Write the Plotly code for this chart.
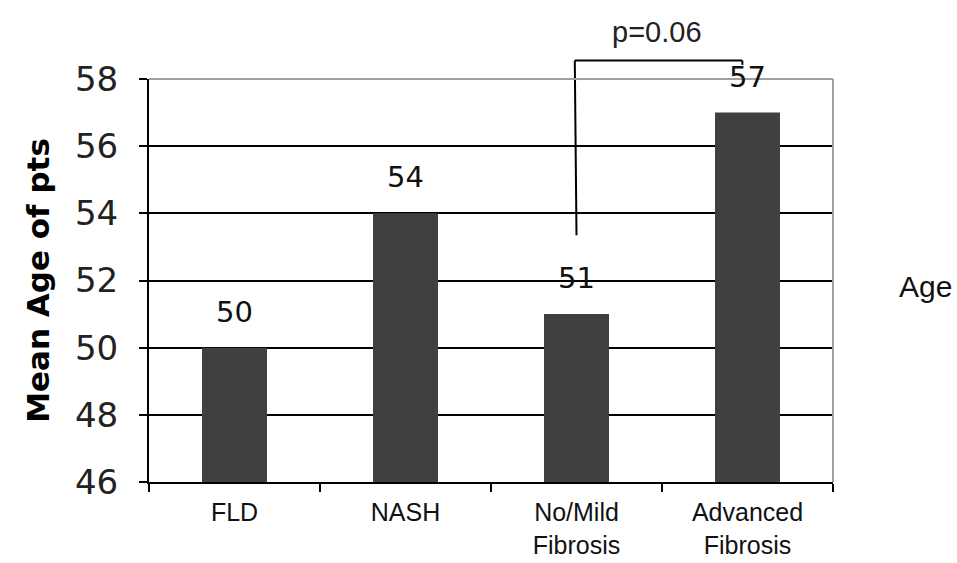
import plotly.graph_objects as go

categories = ["FLD", "NASH", "No/Mild<br>Fibrosis", "Advanced<br>Fibrosis"]
mean_age = [50, 54, 51, 57]
y_ticks = [46, 48, 50, 52, 54, 56, 58]
series_name = "Age"
p_text = "p=0.06"

Y_MIN, Y_MAX = y_ticks[0], y_ticks[-1]


def ypaper(v):
    return (v - Y_MIN) / (Y_MAX - Y_MIN)


fig = go.Figure()
fig.add_trace(go.Bar(
    x=categories, y=mean_age, marker=dict(color="#404040", line=dict(width=0)),
    width=0.38, showlegend=False,
))

for c, v in zip(categories, mean_age):
    fig.add_annotation(x=c, y=v, text=str(v), showarrow=False, yshift=36,
                       font=dict(family="DejaVu Sans", size=29, color="#111"),
                       yanchor="middle")

W, H = 957, 563
ml, mr, mt, mb = 149, 124, 79, 81

# significance bracket between No/Mild Fibrosis and Advanced Fibrosis
line = dict(color="black", width=2)
y_low, y_top, y_tip = ypaper(53.35), ypaper(58.55), ypaper(58.42)
fig.add_shape(type="line", xref="x", yref="paper", x0=2, x1=1.99, y0=y_low, y1=y_top, line=line, layer="above")
fig.add_shape(type="line", xref="x", yref="paper", x0=1.99, x1=2.97, y0=y_top, y1=y_top, line=line, layer="above")
fig.add_shape(type="line", xref="x", yref="paper", x0=2.97, x1=2.97, y0=y_top, y1=y_tip, line=line, layer="above")
fig.add_annotation(x=2.47, xref="x", y=y_top, yref="paper", text=p_text, showarrow=False,
                   yanchor="middle", yshift=29,
                   font=dict(family="Liberation Sans", size=29, color="#222"))

# grey top and right border
grey = dict(color="#a0a0a0", width=2)
fig.add_shape(type="line", xref="paper", yref="paper", x0=0, x1=1, y0=1, y1=1, line=grey, layer="above")
fig.add_shape(type="line", xref="paper", yref="paper", x0=1, x1=1, y0=0, y1=1, line=grey, layer="above")

fig.add_annotation(xref="paper", yref="paper", x=(925 - ml) / (W - ml - mr), y=(H - mb - 286) / (H - mt - mb),
                   text=series_name, showarrow=False, xanchor="center", yanchor="middle",
                   font=dict(family="Liberation Sans", size=30, color="#111"))

fig.update_layout(
    width=W, height=H, margin=dict(l=ml, r=mr, t=mt, b=mb, autoexpand=False),
    plot_bgcolor="white", paper_bgcolor="white",
    font=dict(family="DejaVu Sans", color="#111"),
)
fig.update_xaxes(
    type="category", showline=True, linecolor="black", linewidth=2, automargin=False,
    ticks="outside", tickson="boundaries", ticklen=8, tickwidth=2, tickcolor="black",
    ticklabelstandoff=7,
    tickfont=dict(family="Liberation Sans", size=25, color="#111"),
    showgrid=False, zeroline=False,
)
fig.update_yaxes(
    range=[Y_MIN, Y_MAX], tickvals=y_ticks, ticktext=[str(t) for t in y_ticks],
    showline=True, linecolor="black", linewidth=2, automargin=False,
    ticks="outside", ticklen=8, tickwidth=2, tickcolor="black",
    ticklabelstandoff=14,
    tickfont=dict(family="DejaVu Sans", size=34, color="#222"),
    showgrid=True, gridcolor="black", gridwidth=2, zeroline=False,
    title=dict(text="<b>Mean Age of pts</b>", font=dict(family="DejaVu Sans", size=31, color="black"), standoff=16),
)

fig.write_html("out.html")
